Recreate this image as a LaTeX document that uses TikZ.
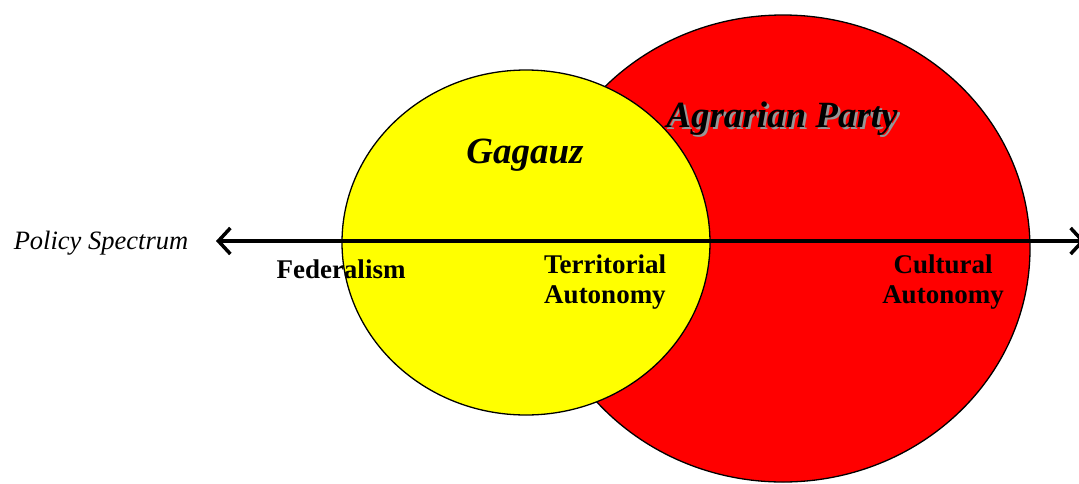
\documentclass[tikz,border=0pt]{standalone}
\usepackage{fontspec}
\setmainfont{Liberation Serif}
\usetikzlibrary{arrows.meta}
\definecolor{agrared}{RGB}{255,0,0}
\definecolor{gagyellow}{RGB}{255,255,0}
\definecolor{shadowgray}{RGB}{150,150,150}
\newcommand{\shadowtext}[1]{\rlap{\hspace{2.5pt}\raisebox{-2.5pt}{\textcolor{shadowgray}{#1}}}#1}
\tikzset{
  blob/.style={draw=black, line width=1.3pt},
  label/.style={font=\fontsize{27}{30}\selectfont\bfseries, align=center, anchor=base, inner sep=0pt},
  title/.style={font=\fontsize{37}{40}\selectfont\bfseries\itshape, anchor=base, inner sep=0pt},
  spectrum/.style={line width=3.5pt, {Straight Barb[length=12pt,width=26pt,line width=3.5pt]}-{Straight Barb[length=12pt,width=26pt,line width=3.5pt]}}
}
\begin{document}
\begin{tikzpicture}[x=1pt,y=-1pt]
\useasboundingbox (0,0) rectangle (1079,483);
\fill[white] (0,0) rectangle (1079,483);
\draw[blob, fill=agrared] (783,248.5) ellipse [x radius=247, y radius=233.5];
\draw[blob, fill=gagyellow] (526,242.5) ellipse [x radius=184, y radius=172.5];
\coordinate (L) at (216,241);
\coordinate (R) at (1085,241);
\draw[spectrum] (L) -- (R);
\node[font=\fontsize{26.5}{30}\selectfont\itshape, anchor=base, inner sep=0pt] (ps) at (101,249) {Policy Spectrum};
\node[label] (fed) at (341,278) {Federalism};
\node[label] (ta) at (605,303) {Territorial\\Autonomy};
\node[label] (ca) at (943,303) {Cultural\\Autonomy};
\node[title] (gag) at (525,163) {Gagauz};
\node[title] (ag) at (782,127) {\shadowtext{Agrarian Party}};
\end{tikzpicture}
\end{document}
